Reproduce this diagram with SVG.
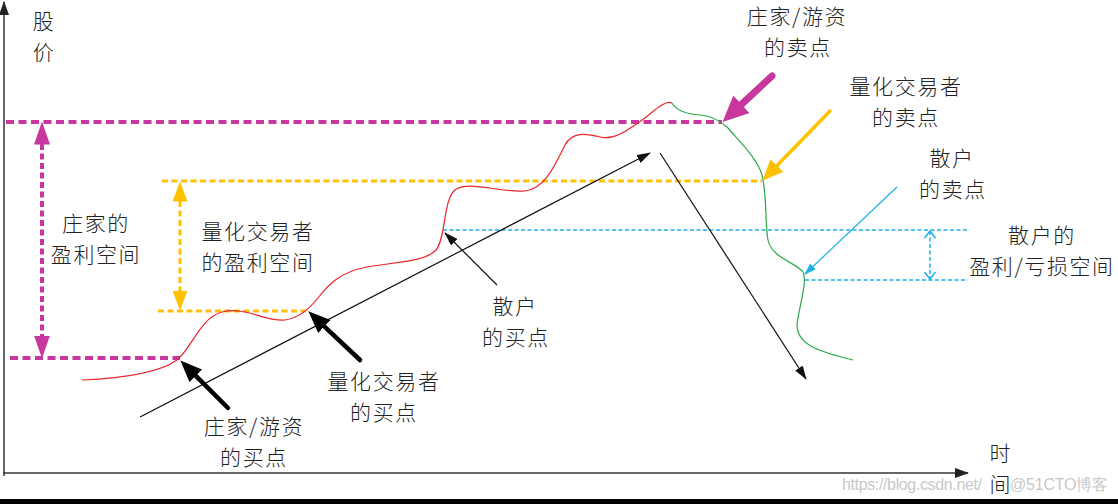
<svg xmlns="http://www.w3.org/2000/svg" width="1118" height="504" viewBox="0 0 1118 504">
<style>
text{font-family:"Noto Sans CJK SC","Liberation Sans",sans-serif;font-size:21px;letter-spacing:1.6px;font-weight:300;fill:#222;text-anchor:middle}
.pk{stroke:#C8379E;fill:none}
.yl{stroke:#FFC000;fill:none}
.cy{stroke:#1AB0E6;fill:none}
.bk{stroke:#111;fill:none}
.wm{font-family:"Liberation Sans",sans-serif;font-size:16px;letter-spacing:0;font-weight:400;fill:#c8c8c8;text-anchor:start}
</style>
<defs>
<marker id="mAxis" markerUnits="userSpaceOnUse" markerWidth="14" markerHeight="10" refX="13" refY="5" orient="auto"><path d="M0,0 L14,5 L0,10 z" fill="#222"/></marker>
<marker id="mThin" markerUnits="userSpaceOnUse" markerWidth="14" markerHeight="9" refX="13" refY="4.5" orient="auto"><path d="M0,0 L14,4.5 L0,9 z" fill="#111"/></marker>
<marker id="mCyan" markerUnits="userSpaceOnUse" markerWidth="12" markerHeight="8" refX="11" refY="4" orient="auto"><path d="M0,0 L12,4 L0,8 z" fill="#1AB0E6"/></marker>
<marker id="mCyanOpen" markerUnits="userSpaceOnUse" markerWidth="10" markerHeight="14" refX="8" refY="7" orient="auto-start-reverse"><path d="M1,1.5 L8,7 L1,12.5" fill="none" stroke="#1AB0E6" stroke-width="1.5"/></marker>
<marker id="mPink" markerUnits="userSpaceOnUse" markerWidth="24" markerHeight="16" refX="0.5" refY="8" orient="auto-start-reverse"><path d="M0,0 L23,8 L0,16 z" fill="#C8379E"/></marker>
<marker id="mYel" markerUnits="userSpaceOnUse" markerWidth="21" markerHeight="15" refX="0.5" refY="7.5" orient="auto-start-reverse"><path d="M0,0 L20,7.5 L0,15 z" fill="#FFC000"/></marker>
<marker id="mPinkBig" markerUnits="userSpaceOnUse" markerWidth="27" markerHeight="24" refX="0.5" refY="12" orient="auto"><path d="M0,0 L26,12 L0,24 z" fill="#C8379E"/></marker>
<marker id="mYelBig" markerUnits="userSpaceOnUse" markerWidth="22" markerHeight="18" refX="0.5" refY="9" orient="auto"><path d="M0,0 L21,9 L0,18 z" fill="#FFC000"/></marker>
<marker id="mBlk" markerUnits="userSpaceOnUse" markerWidth="23" markerHeight="18" refX="0.5" refY="9" orient="auto"><path d="M0,0 L22,9 L0,18 z" fill="#000"/></marker>
</defs>
<rect x="0" y="0" width="1118" height="504" fill="#fff"/>
<rect x="0" y="499" width="1118" height="5" fill="#000"/>

<g id="axes">
<line x1="4" y1="476" x2="4" y2="2" stroke="#333" stroke-width="1.5" marker-end="url(#mAxis)"/>
<line x1="3" y1="473" x2="968" y2="473" stroke="#333" stroke-width="1.5" marker-end="url(#mAxis)"/>
</g>

<g id="levels">
<line class="pk" x1="6" y1="122" x2="722" y2="122" stroke-width="4" stroke-dasharray="8 4.5"/>
<line class="pk" x1="10" y1="358" x2="180" y2="358" stroke-width="4" stroke-dasharray="8 4.5"/>
<line class="yl" x1="162" y1="181" x2="762" y2="181" stroke-width="3" stroke-dasharray="6 3.5"/>
<line class="yl" x1="158" y1="311" x2="306" y2="311" stroke-width="3" stroke-dasharray="6 3.5"/>
<line class="cy" x1="443" y1="230" x2="968" y2="230" stroke-width="1.5" stroke-dasharray="4 2.5"/>
<line class="cy" x1="805" y1="280" x2="968" y2="280" stroke-width="1.5" stroke-dasharray="4 2.5"/>
</g>

<g id="price-curve">
<path d="M82,380 C130,378 160,372 177,360 C192,348 200,318 222,312 C245,306 265,322 285,320 C300,318 310,308 318,298 C328,285 340,272 367,267 C395,262 425,262 436,250 C446,238 443,200 455,190 C468,180 500,193 525,191 C545,189 555,165 565,145 C572,132 585,133 600,137 C615,141 630,128 645,118 C655,110 665,100 672,103" fill="none" stroke="#E8262A" stroke-width="1.2"/>
<path d="M672,103 C676,110 685,114 700,115 C712,116 720,120 728,128 C740,142 757,158 762,175 C767,195 765,225 768,240 C772,258 795,262 803,272 C808,282 798,310 797,325 C797,345 820,352 853,360" fill="none" stroke="#2BA84A" stroke-width="1.2"/>
</g>

<g id="connectors">
<line class="pk" x1="42" y1="144" x2="42" y2="336" stroke-width="4" stroke-dasharray="6 3.5" marker-start="url(#mPink)" marker-end="url(#mPink)"/>
<line class="yl" x1="180" y1="201" x2="180" y2="291" stroke-width="3" stroke-dasharray="6 3.5" marker-start="url(#mYel)" marker-end="url(#mYel)"/>
<line class="cy" x1="930" y1="231" x2="930" y2="279" stroke-width="1.5" stroke-dasharray="4 2.5" marker-start="url(#mCyanOpen)" marker-end="url(#mCyanOpen)"/>
<line class="bk" x1="140" y1="417" x2="650" y2="153" stroke-width="1.2" marker-end="url(#mThin)"/>
<line class="bk" x1="660" y1="153" x2="806" y2="379" stroke-width="1.2" marker-end="url(#mThin)"/>
<line class="bk" x1="497" y1="285" x2="445" y2="233" stroke-width="1.2" marker-end="url(#mThin)"/>
<line class="cy" x1="897" y1="187" x2="805" y2="274" stroke-width="1.2" marker-end="url(#mCyan)"/>
<line x1="228" y1="408" x2="195.6" y2="375.6" stroke="#000" stroke-width="4.5" stroke-linecap="round" marker-end="url(#mBlk)"/>
<line x1="360" y1="360" x2="324" y2="326.1" stroke="#000" stroke-width="4.5" stroke-linecap="round" marker-end="url(#mBlk)"/>
<line x1="772" y1="76" x2="741.2" y2="104.6" class="pk" stroke-width="7" stroke-linecap="round" marker-end="url(#mPinkBig)"/>
<line x1="830" y1="111" x2="776.6" y2="166" class="yl" stroke-width="3.5" stroke-linecap="round" marker-end="url(#mYelBig)"/>
</g>

<g id="labels">
<text x="44" y="29">股</text>
<text x="44" y="60">价</text>
<text x="96" y="231">庄家的</text>
<text x="96" y="262">盈利空间</text>
<text x="258" y="239">量化交易者</text>
<text x="258" y="270">的盈利空间</text>
<text x="384" y="389">量化交易者</text>
<text x="384" y="420">的买点</text>
<text x="254" y="434">庄家/游资</text>
<text x="254" y="465">的买点</text>
<text x="515" y="314">散户</text>
<text x="516" y="345">的买点</text>
<text x="797" y="24">庄家/游资</text>
<text x="798" y="55">的卖点</text>
<text x="906" y="94">量化交易者</text>
<text x="906" y="125">的卖点</text>
<text x="952" y="166">散户</text>
<text x="953" y="197">的卖点</text>
<text x="1042" y="243">散户的</text>
<text x="1042" y="274">盈利/亏损空间</text>
<text x="1000" y="461" style="letter-spacing:0">时</text>
<text x="1000" y="492" style="letter-spacing:0">间</text>
</g>

<g id="watermark">
<text class="wm" x="842" y="490" textLength="140">https://blog.csdn.net/</text>
<text class="wm" x="1010" y="490" textLength="98">@51CTO博客</text>
</g>
</svg>
